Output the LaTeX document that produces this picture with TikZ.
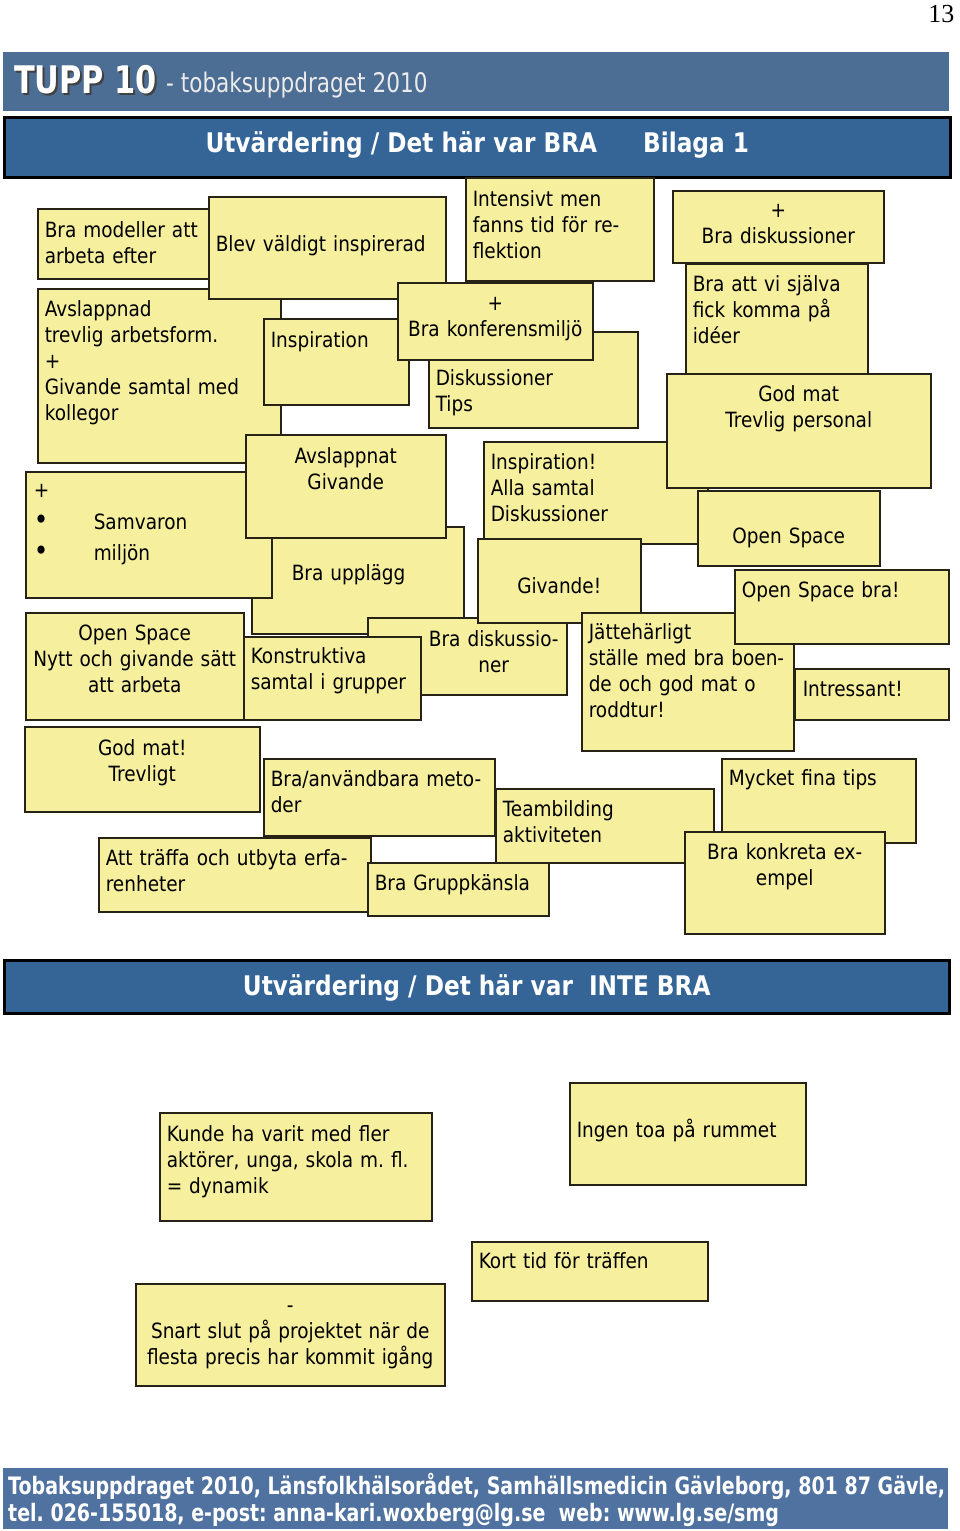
\documentclass[tikz,border=0pt]{standalone}
\usepackage{fontspec}
\setmainfont{DejaVu Sans}[FakeStretch=0.88]
\newfontfamily\barfont{DejaVu Sans}[FakeStretch=0.86]
\newfontfamily\tuppfont{DejaVu Sans}[FakeStretch=0.8]
\newfontfamily\footfont{DejaVu Sans}[FakeStretch=0.792]
\newfontfamily\pagefont{Liberation Serif}
\definecolor{sticky}{RGB}{246,239,158}
\definecolor{edge}{RGB}{38,34,22}
\definecolor{barblue}{RGB}{52,101,150}
\definecolor{topblue}{RGB}{76,109,148}
\definecolor{footblue}{RGB}{80,114,160}
\frenchspacing

\begin{document}
\begin{tikzpicture}[x=1pt, y=-1pt,
    note/.style={draw=edge, fill=sticky, line width=1.5pt, anchor=north west,
      inner xsep=7pt, inner ysep=0pt, align=left, font=\fontsize{21}{26}\selectfont},
    mid/.style={align=center, inner xsep=0pt},
    bar/.style={draw=black, line width=2.5pt, fill=barblue, text=white, anchor=north west,
      inner sep=0pt, font=\barfont\bfseries\fontsize{27}{32}\selectfont}]
  \useasboundingbox (0,0) rectangle (960,1531);

  \node[anchor=base east, font=\pagefont\fontsize{26}{30}\selectfont] (sida) at (958,23) {13};
  \node[fill=topblue, anchor=north west, inner sep=0pt, minimum width=946pt, minimum height=59pt] (banner) at (3,52) {};
  \node[anchor=base west, inner sep=0pt, text=black!75, font=\tuppfont\bfseries\fontsize{38}{40}\selectfont] (tuppshade) at (16,95) {TUPP 10};
  \node[anchor=base west, inner sep=0pt, text=white, font=\tuppfont\bfseries\fontsize{38}{40}\selectfont] (tupp) at (14,93) {TUPP 10};
  \node[anchor=base west, inner sep=0pt, text=white!92!black, font=\tuppfont\fontsize{27}{30}\selectfont] (uppdrag) at (166,92) {- tobaksuppdraget 2010};
  \node[bar, minimum width=946pt, minimum height=60pt, text height=21pt, text depth=11pt] (bra) at (3,116)
    {Utvärdering / Det här var BRA\hspace{46pt}Bilaga 1};

  \node[note, text width=164pt, text height=29pt, text depth=41pt] (modeller) at (37,208) {Bra modeller att\\arbeta efter};
  \node[note, text width=229pt, text height=28pt, text depth=146pt] (trevlig) at (37,288)
    {Avslappnad\\trevlig arbetsform.\\+\\Givande samtal med\\kollegor};
  \node[note, text width=223pt, text height=55pt, text depth=47pt] (blev) at (208,196) {Blev väldigt inspirerad};
  \node[note, text width=131pt, text height=29pt, text depth=57pt] (inspiration) at (263,318) {Inspiration};
  \node[note, text width=195pt, text height=54pt, text depth=42pt] (tips) at (428,331) {Diskussioner\\Tips};
  \node[note, mid, text width=195pt, text height=28pt, text depth=49pt] (miljo) at (397,282) {+\\Bra konferensmiljö};
  \node[note, text width=174pt, text height=29pt, text depth=74pt] (intensivt) at (465,177)
    {Intensivt men\\fanns tid för re-\\flektion};
  \node[note, mid, text width=211pt, text height=27pt, text depth=45pt] (diskussioner) at (672,190) {+\\Bra diskussioner};
  \node[note, text width=168pt, text height=28pt, text depth=89pt] (ideer) at (685,263)
    {Bra att vi själva\\fick komma på\\idéer};
  \node[note, text width=210pt, text height=28pt, text depth=74pt] (allasamtal) at (483,441)
    {Inspiration!\\Alla samtal\\Diskussioner};
  \node[note, mid, text width=264pt, text height=28pt, text depth=86pt] (personal) at (666,373) {God mat\\Trevlig personal};
  \node[note, inner xsep=40pt, text width=132pt, text height=54pt, text depth=53pt] (upplagg) at (251,526) {Bra upplägg};
  \node[note, inner xsep=8pt, text width=230pt, text height=26pt, text depth=100pt] (samvaron) at (25,471)
    {+\\[6pt]\makebox[60pt][l]{\fontsize{28}{26}\selectfont\textbullet}Samvaron\\[5pt]\makebox[60pt][l]{\fontsize{28}{26}\selectfont\textbullet}miljön};
  \node[note, mid, text width=200pt, text height=29pt, text depth=74pt] (givande) at (245,434) {Avslappnat\\Givande};
  \node[note, mid, text width=218pt, text height=28pt, text depth=79pt] (nytt) at (25,612)
    {Open Space\\Nytt~och~givande~sätt\\att arbeta};
  \node[note, mid, text width=199pt, text height=29pt, text depth=48pt] (samtalen) at (367,617)
    {\hspace*{53pt}Bra diskussio-\\\hspace*{53pt}ner};
  \node[note, text width=163pt, text height=27pt, text depth=56pt] (konstruktiva) at (243,636) {Konstruktiva\\samtal~i~grupper};
  \node[note, mid, text width=163pt, text height=55pt, text depth=29pt] (givandeutrop) at (477,538) {Givande!};
  \node[note, mid, text width=182pt, text height=53pt, text depth=22pt] (openspace) at (697,490) {Open Space};
  \node[note, text width=198pt, text height=27pt, text depth=111pt] (jatte) at (581,612)
    {Jättehärligt\\ställe~med~bra~boen-\\de och god mat o\\roddtur!};
  \node[note, text width=200pt, text height=28pt, text depth=46pt] (osbra) at (734,569) {Open Space bra!};
  \node[note, inner xsep=8pt, text width=138pt, text height=28pt, text depth=23pt] (intressant) at (794,668) {Intressant!};
  \node[note, mid, text width=235pt, text height=29pt, text depth=56pt] (godmat) at (24,726) {God mat!\\Trevligt};
  \node[note, text width=217pt, text height=28pt, text depth=49pt] (metoder) at (263,758) {Bra/användbara~meto-\\der};
  \node[note, text width=258pt, text height=28pt, text depth=46pt] (erfarenheter) at (98,837)
    {Att träffa och utbyta erfa-\\renheter};
  \node[note, text width=167pt, text height=28pt, text depth=25pt] (gruppkansla) at (367,862) {Bra Gruppkänsla};
  \node[note, text width=204pt, text height=28pt, text depth=46pt] (teambilding) at (495,788) {Teambilding\\aktiviteten};
  \node[note, text width=180pt, text height=27pt, text depth=57pt] (finatips) at (721,758) {Mycket fina tips};
  \node[note, mid, text width=200pt, text height=28pt, text depth=74pt] (exempel) at (684,831) {Bra konkreta ex-\\empel};

  \node[bar, minimum width=945pt, minimum height=53pt, text height=21pt, text depth=4pt] (intebra) at (3,959)
    {Utvärdering / Det här var\ \ INTE BRA};

  \node[note, text width=258pt, text height=29pt, text depth=79pt] (aktorer) at (159,1112)
    {Kunde ha varit med fler\\aktörer, unga, skola m. fl.\\= dynamik};
  \node[note, text width=222pt, text height=55pt, text depth=47pt] (toa) at (569,1082) {Ingen toa på rummet};
  \node[note, text width=222pt, text height=27pt, text depth=32pt] (korttid) at (471,1241) {Kort tid för träffen};
  \node[note, mid, text width=309pt, text height=29pt, text depth=73pt] (slut) at (135,1283)
    {-\\Snart slut på projektet när de\\flesta precis har kommit igång};

  \node[fill=footblue, anchor=north west, inner sep=0pt, minimum width=945pt, minimum height=61pt] (sidfot) at (3,1468) {};
  \node[anchor=base west, inner sep=0pt, text=white, font=\footfont\bfseries\fontsize{24}{28}\selectfont] (adress) at (8,1494)
    {Tobaksuppdraget 2010, Länsfolkhälsorådet, Samhällsmedicin Gävleborg, 801 87 Gävle,};
  \node[anchor=base west, inner sep=0pt, text=white, font=\footfont\bfseries\fontsize{24}{28}\selectfont] (kontakt) at (8,1521)
    {tel. 026-155018, e-post: anna-kari.woxberg@lg.se\ \ web: www.lg.se/smg};
\end{tikzpicture}
\end{document}
